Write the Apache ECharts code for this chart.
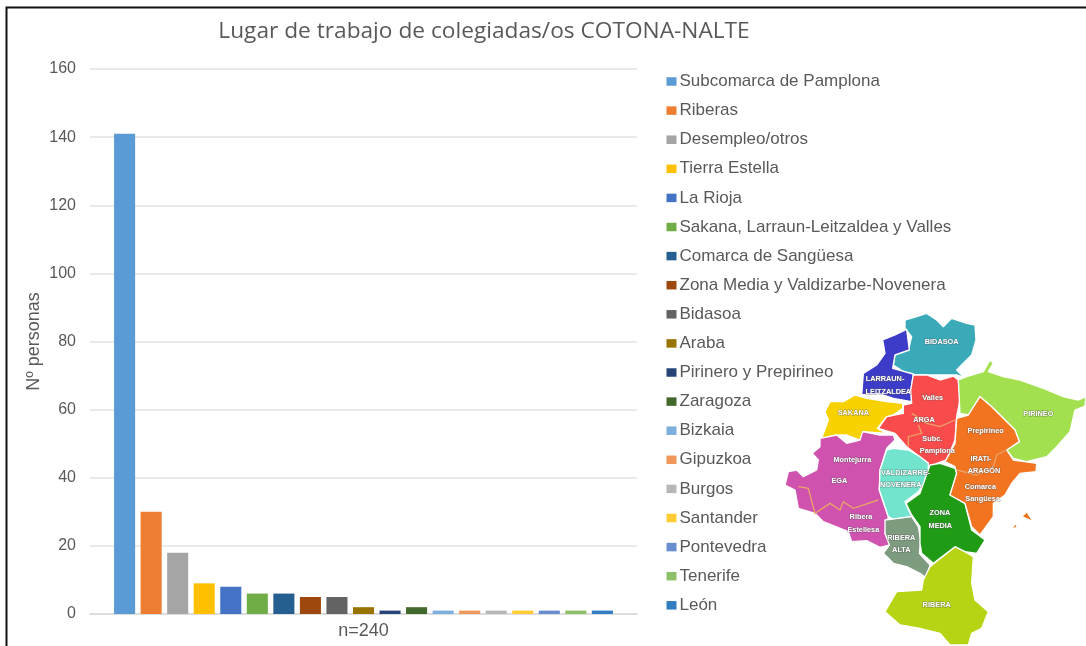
<!DOCTYPE html>
<html><head><meta charset="utf-8">
<style>html,body{margin:0;padding:0;background:#fff}#c{width:1086px;height:646px;filter:blur(0.45px)}</style>
<script src="https://cdn.jsdelivr.net/npm/echarts@6/dist/echarts.min.js"></script>
</head><body><div id="c"></div>
<script>
const categories = ["n=240"];
const seriesNames = ["Subcomarca de Pamplona","Riberas","Desempleo/otros","Tierra Estella","La Rioja","Sakana, Larraun-Leitzaldea y Valles","Comarca de Sangüesa","Zona Media y Valdizarbe-Novenera","Bidasoa","Araba","Pirinero y Prepirineo","Zaragoza","Bizkaia","Gipuzkoa","Burgos","Santander","Pontevedra","Tenerife","León"];
const seriesValues = [141,30,18,9,8,6,6,5,5,2,1,2,1,1,1,1,1,1,1];
const seriesColors = ["#5B9BD5","#ED7D31","#A5A5A5","#FFC000","#4472C4","#70AD47","#255E91","#9E480E","#636363","#997300","#264478","#43682B","#7CAFDD","#F1975A","#B7B7B7","#FFCD33","#698ED0","#8CC168","#327DC2"];

// Decorative map of Navarra zones (in zoomed image units)
const mapZones = [
 ["#3AAAB9",[375,60,410,50,440,40,470,60,490,80,515,55,560,70,585,75,588,120,575,165,550,190,530,210,552,232,530,225,470,225,400,225,370,215,340,195,345,165,385,150,395,110,375,85]],
 ["#3C3CC8",[380,88,388,150,345,165,338,205,400,222,393,270,395,305,340,295,295,280,245,285,250,220,290,195,315,160,308,120,345,105]],
 ["#F94B4B",[400,225,440,225,480,240,520,228,535,240,540,300,530,350,525,420,500,480,470,490,445,505,445,490,380,440,345,400,295,385,320,350,370,340,370,315,395,310,392,270]],
 ["#F8D100",[150,305,190,305,225,285,260,295,320,305,368,310,368,325,340,345,320,350,292,385,320,400,250,395,240,420,200,405,170,405,125,415,145,360,135,335]],
 ["#CF52AF",[120,415,170,405,200,430,240,420,248,395,300,405,340,405,345,420,320,445,300,510,298,570,325,650,315,700,330,735,300,742,260,722,215,725,205,695,130,665,105,640,55,625,45,570,15,555,25,515,50,510,70,530,110,510,115,480,97,460,120,440]],
 ["#72E3CC",[340,445,385,450,420,470,445,490,445,510,452,520,425,560,415,575,375,605,395,650,340,658,325,650,298,570,300,510,320,450]],
 ["#7D9B7E",[315,660,395,650,415,680,422,720,418,760,450,795,440,835,420,820,380,800,340,790,310,760,328,735,315,700]],
 ["#B7D414",[525,740,555,755,580,770,575,850,585,900,625,935,605,985,575,1000,565,1035,510,1035,480,1000,420,985,360,975,315,935,350,875,425,870,430,840,450,800]],
 ["#1F9B16",[450,495,480,490,525,505,530,520,510,585,555,610,575,690,615,720,590,760,555,755,525,740,460,790,425,760,420,730,420,680,395,645,378,610,420,580]],
 ["#A2E04F",[630,180,640,190,625,215,670,230,720,240,790,265,850,290,895,300,918,290,915,318,885,330,870,395,830,440,800,470,740,485,700,475,680,450,718,425,705,390,660,345,635,320,600,290,565,345,540,340,535,240,560,230,610,215]],
 ["#F27420",[600,290,635,320,660,345,705,390,718,425,680,450,700,480,770,490,768,515,720,520,695,550,675,585,640,610,640,650,600,705,575,680,555,610,510,585,530,520,525,500,495,485,525,430,530,355,565,345]],
 ["#F27420",[740,635,760,665,725,650]],
 ["#F27420",[705,670,712,680,695,690]]
];
const mapLines = [
 [55,560,85,565,105,640,150,610,180,630,190,605,220,625,295,600],
 [395,340,440,370,480,380,525,360],
 [385,440,385,410,425,400,415,375],
 [530,510,590,525,640,500,650,465,680,450]
];
const mapLabels = [
 ["BIDASOA",485,125],["LARRAUN-",315,238],["LEITZALDEA",325,276],["Valles",458,293],["SAKANA",220,340],["ARGA",432,361],
 ["PIRINEO",775,343],["Prepirineo",617,394],["Subc.",457,417],["Pamplona",472,453],["Montejurra",217,480],["IRATI-",603,478],
 ["ARAGÓN",612,514],["EGA",178,544],["VALDIZARRE-",377,519],["NOVENERA",362,556],["Comarca",601,561],["Sangüesa",608,597],
 ["ZONA",480,640],["MEDIA",481,677],["Ribera",243,652],["Estellesa",250,690],["RIBERA",364,714],["ALTA",364,751],["RIBERA",470,915]
];
const pairs = a => { const o=[]; for(let i=0;i<a.length;i+=2) o.push([a[i],a[i+1]]); return o; };

const series = seriesNames.map((n,i)=>({
  name:n, type:'bar', data:[seriesValues[i]], itemStyle:{color:seriesColors[i]},
  barGap:'26%', barCategoryGap:'8.8%', animation:false
}));

const mapChildren = [
 ...mapZones.map(z=>({type:'polygon',shape:{points:pairs(z[1])},style:{fill:z[0],stroke:'#fff',lineWidth:4,lineJoin:'round'}})),
 ...mapLines.map(l=>({type:'polyline',shape:{points:pairs(l)},style:{fill:null,stroke:'#E9A268',lineWidth:4}})),
 ...mapLabels.map(t=>({type:'text',x:t[1],y:t[2],style:{text:t[0],fill:'#fff',font:'bold 22px "Liberation Sans"',textAlign:'center',textVerticalAlign:'middle',stroke:'rgba(90,90,90,0.55)',lineWidth:3}}))
];

const chart = echarts.init(document.getElementById('c'),null,{renderer:'canvas'});
chart.setOption({
  animation:false,
  backgroundColor:'#fff',
  title:{text:'Lugar de trabajo de colegiadas/os COTONA-NALTE',left:479,top:15,textAlign:'center',
    textStyle:{fontFamily:'Open Sans',fontWeight:'normal',fontSize:22.7,color:'#595959'}},
  legend:{orient:'vertical',left:666.5,top:73,itemWidth:10,itemHeight:8.5,itemGap:12.1,icon:'rect',
    textStyle:{fontFamily:'Liberation Sans',fontSize:17,color:'#595959',lineHeight:16,padding:[1,0,0,-2]},padding:0,
    selectedMode:false,data:seriesNames},
  grid:{left:90,right:449,top:69,bottom:32,containLabel:false},
  xAxis:{type:'category',data:categories,axisTick:{show:false},
    axisLine:{lineStyle:{color:'#D9D9D9',width:1.5}},
    axisLabel:{fontFamily:'Liberation Sans',fontSize:18,color:'#595959',margin:8}},
  yAxis:{type:'value',min:0,max:160,interval:20,name:'Nº personas',nameLocation:'middle',nameGap:47,nameMoveOverlap:false,
    nameTextStyle:{fontFamily:'Liberation Sans',fontSize:18,color:'#595959'},
    axisLine:{show:false},axisTick:{show:false},
    splitLine:{lineStyle:{color:'#E2E2E2',width:1.5}},
    axisLabel:{fontFamily:'Liberation Sans',fontSize:16,color:'#595959',margin:14}},
  series,
  graphic:[
    {type:'polyline',shape:{points:[[6.5,646],[6.5,7.5],[1086,7.5]]},style:{fill:null,stroke:'#111',lineWidth:2},z:50},
    {type:'group',x:780,y:300,scaleX:1/3,scaleY:1/3,children:mapChildren,z:40}
  ]
});
</script></body></html>
